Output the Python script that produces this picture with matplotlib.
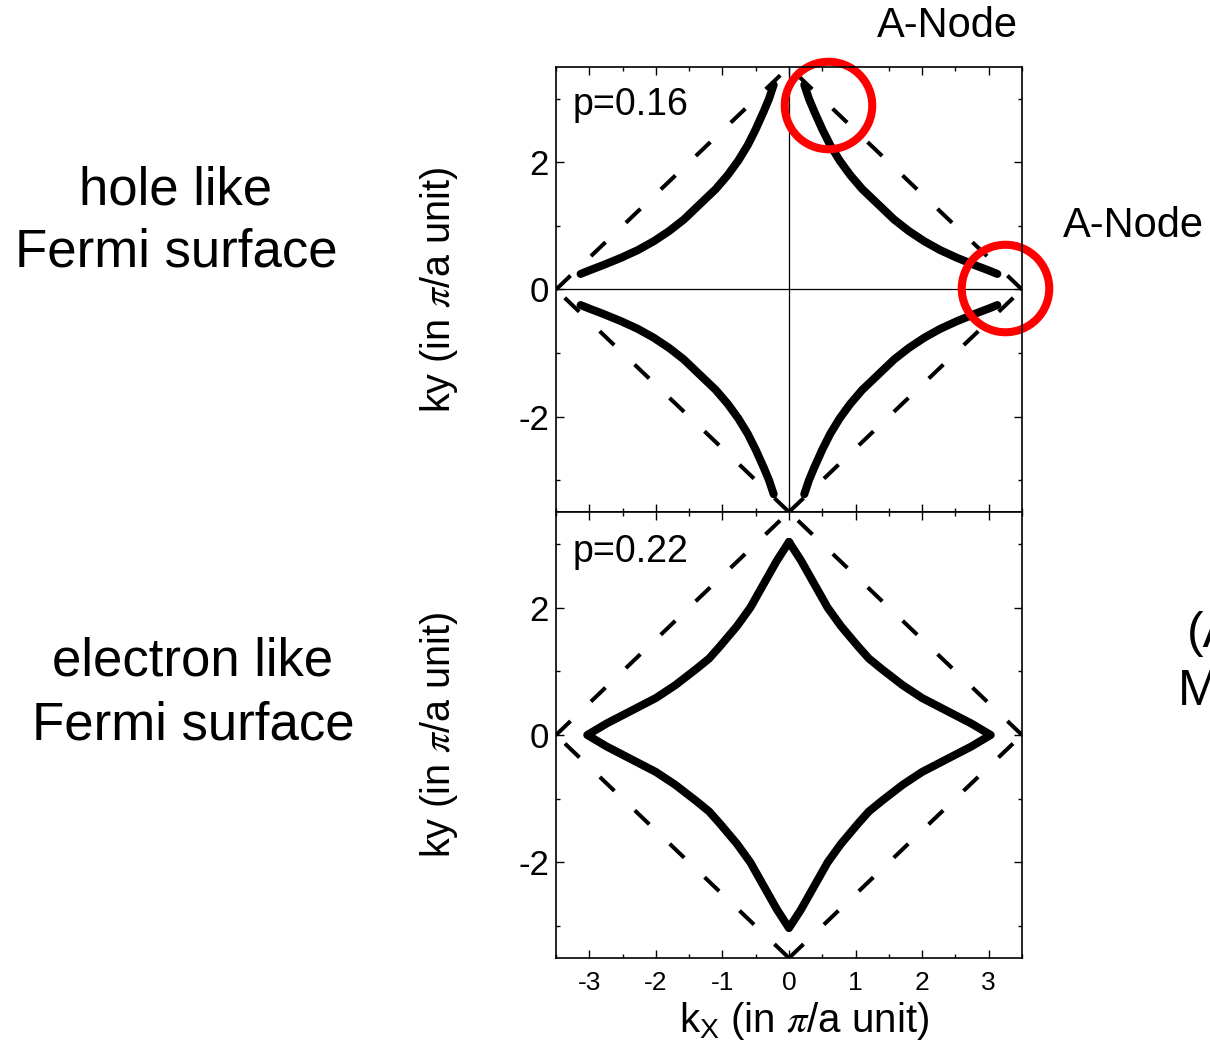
"""
Hole like vs electron like Fermi surface (p=0.16 and p=0.22)
"""
import numpy as np
import matplotlib
matplotlib.use('Agg')
import matplotlib.pyplot as plt
from matplotlib.ticker import MultipleLocator

plt.rcParams['font.family'] = ['Liberation Sans', 'DejaVu Sans']
plt.rcParams['mathtext.fontset'] = 'stix'
plt.rcParams['axes.unicode_minus'] = False

# first quadrant of the p=0.16 arc (hole like)
hole_kx = [0.23, 0.30, 0.38, 0.50, 0.62, 0.76, 0.92, 1.10, 1.34,
           1.58, 1.80, 2.03, 2.27, 2.52, 2.80, 3.00, 3.13]
hole_ky = [3.22, 3.00, 2.80, 2.52, 2.27, 2.03, 1.80, 1.58, 1.34,
           1.10, 0.92, 0.76, 0.62, 0.50, 0.38, 0.30, 0.245]

# first quadrant of the p=0.22 contour (electron like)
elec_kx = [0.0, 0.18, 0.38, 0.58, 0.78, 1.03, 1.20, 1.40, 1.71, 2.00, 2.37, 2.74, 3.03]
elec_ky = [3.03, 2.74, 2.37, 2.00, 1.71, 1.40, 1.20, 1.03, 0.78, 0.58, 0.38, 0.18, 0.0]

# dashed zone boundary: corners and the four edges (start corner, end corner)
zone_kx = [-3.5, 0.0, 3.5, 0.0]
zone_ky = [0.0, 3.5, 0.0, -3.5]
zone_edges = [(3, 0), (3, 2), (0, 1), (2, 1)]

# nodes marked by red circles on the top panel
node_kx = [0.59, 3.24]
node_ky = [2.90, 0.02]

labels = ['p=0.16', 'p=0.22']

fig = plt.figure(figsize=(12.1, 10.47), dpi=100)
ax1 = fig.add_axes([0.4595, 0.5110, 0.3851, 0.4250])
ax2 = fig.add_axes([0.4595, 0.0850, 0.3851, 0.4260])

lw_fs = 5.8
hx = np.array(hole_kx)
hy = np.array(hole_ky)
for sx in (1, -1):
	for sy in (1, -1):
		ax1.plot(sx*hx, sy*hy, color='k', lw=lw_fs, solid_capstyle='round')

ex = np.array(elec_kx)
ey = np.array(elec_ky)
cx = np.concatenate([ex, ex[::-1], -ex, -ex[::-1]])
cy = np.concatenate([ey, -ey[::-1], -ey, ey[::-1]])
ax2.plot(cx, cy, color='k', lw=lw_fs, solid_capstyle='round', solid_joinstyle='round')

for ax in (ax1, ax2):
	for i, j in zone_edges:
		ax.plot([zone_kx[i], zone_kx[j]], [zone_ky[i], zone_ky[j]],
				color='k', lw=2.9, dashes=(5, 7), dash_capstyle='butt')

ax1.axhline(0, color='k', lw=0.9)
ax1.axvline(0, color='k', lw=0.9)

ax1.plot(node_kx, node_ky, 'o', ms=63, mfc='none', mec='#ff0000', mew=5.8, clip_on=False)

for ax, lab, yy in zip((ax1, ax2), labels, (0.915, 0.91)):
	ax.set_xlim(-3.5, 3.5)
	ax.set_ylim(-3.5, 3.5)
	ax.xaxis.set_major_locator(MultipleLocator(1))
	ax.xaxis.set_minor_locator(MultipleLocator(0.5))
	ax.yaxis.set_major_locator(MultipleLocator(2))
	ax.yaxis.set_minor_locator(MultipleLocator(1))
	ax.tick_params(which='both', direction='in', top=True, right=True, width=1)
	ax.tick_params(which='major', length=6)
	ax.tick_params(which='minor', length=3)
	ax.tick_params(axis='y', labelsize=25, pad=5)
	ax.tick_params(axis='x', labelsize=19, pad=9)
	for s in ax.spines.values():
		s.set_linewidth(1.2)
	ax.text(0.036, yy, lab, transform=ax.transAxes, fontsize=27, va='center', ha='left')
	ax.set_ylabel(r'ky (in $\pi$/a unit)', fontsize=28.5)
	ax.yaxis.set_label_coords(-0.205, 0.5)

ax1.tick_params(labelbottom=False)
ax2.set_xlabel(r'k$\mathregular{_X}$ (in $\pi$/a unit)', fontsize=29)
ax2.xaxis.set_label_coords(0.532, -0.094)

def ftext(x, y, s, size, ha='center'):
	fig.text(x/1210, 1-y/1047, s, fontsize=size, ha=ha, va='baseline')

ftext(947, 37, 'A-Node', 30)
ftext(1133, 237, 'A-Node', 30)
ftext(176, 204, 'hole like', 38)
ftext(176, 267, 'Fermi surface', 38)
ftext(193, 676, 'electron like', 38)
ftext(193, 740, 'Fermi surface', 38)
ftext(1187, 647, '(A', 36, ha='left')
ftext(1178, 705, 'M', 36, ha='left')

fig.savefig('out.png', dpi=100)
